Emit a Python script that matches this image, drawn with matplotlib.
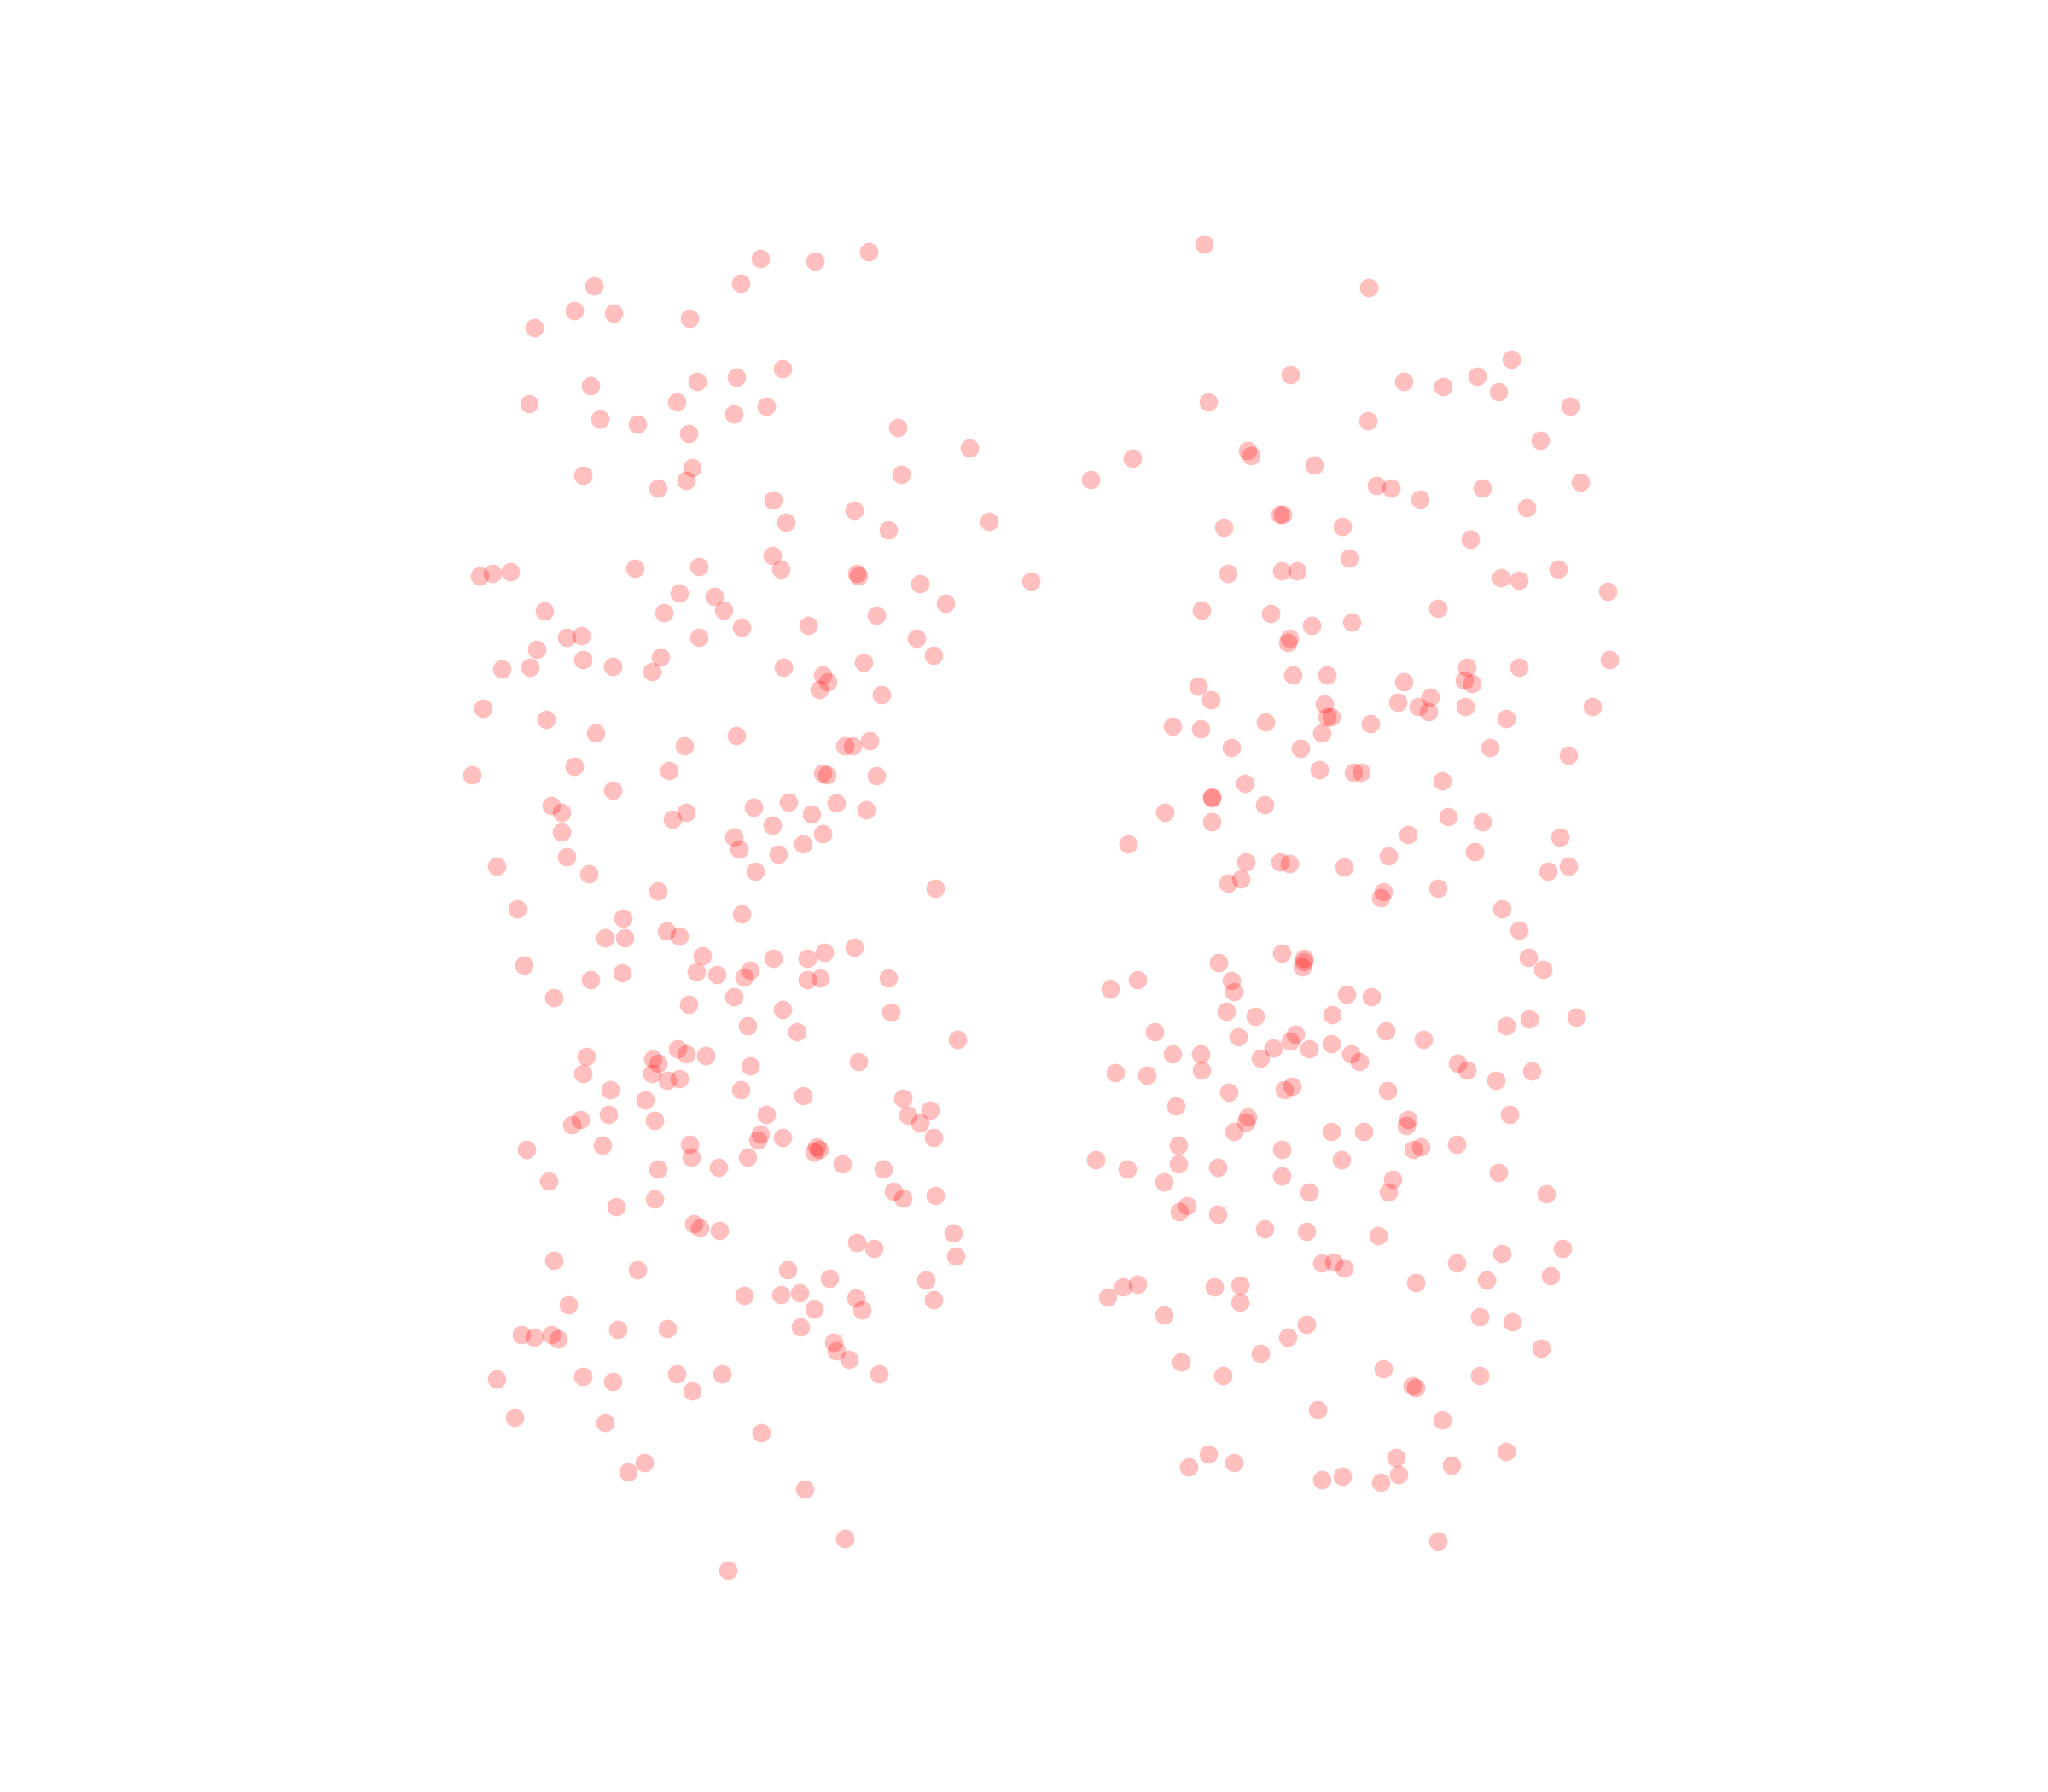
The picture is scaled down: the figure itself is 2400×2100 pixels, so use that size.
import matplotlib.pyplot as plt

# point positions, in 1568x1372 preview pixels
left_x = [582, 624, 665, 567, 455, 440, 470, 528, 409, 599, 564, 534, 452, 405, 518, 587, 562, 459, 488, 527, 687, 742, 530, 446, 504, 525, 690, 592, 654, 602, 680, 757,
          591, 598, 535, 486, 367, 377, 391, 656, 657, 704, 789, 520, 547, 724, 417, 508, 554, 671, 568, 619, 445, 434, 535, 702, 411, 446, 506, 715, 661, 384, 406, 469, 499, 600, 630, 634, 627, 675,
          370, 418, 456, 564, 524, 647, 653, 666, 440, 512, 630, 633, 671, 361, 469, 604, 640, 422, 430, 577, 525, 515, 621, 663, 591, 430, 630, 562, 566, 615, 596, 434, 380, 451, 578, 504, 716,
          396, 568, 477, 463, 478, 510, 520, 654, 631, 538, 618, 592, 401, 574, 533, 549, 570, 476, 452, 618, 628, 680, 424, 562, 527, 599, 682, 572, 610, 733, 519, 525, 540, 449, 500, 504, 574, 657,
          446, 499, 511, 520, 567, 467, 615, 691, 494, 466, 587, 712, 695, 444, 438, 501, 704, 582, 599, 715, 580, 461, 528, 403, 625, 627, 623, 572, 529, 645, 504, 550, 676, 420, 684, 691, 716, 501, 472,
          531, 536, 551, 730, 656, 669, 732, 424, 488, 603, 635, 709, 570, 598, 612, 655, 715, 435, 623, 660, 473, 511, 613, 399, 409, 422, 427, 638, 640, 650, 446, 518, 553, 673, 380, 469, 530,
          394, 463, 583, 493, 481, 616, 647, 557]
left_y = [198, 200, 193, 217, 219, 238, 240, 244, 251, 282, 289, 292, 295, 309, 308, 311, 317, 321, 325, 332, 327, 343, 358, 364, 374, 368, 363, 383, 391, 400, 406, 399,
          425, 436, 434, 435, 441, 439, 438, 439, 441, 447, 445, 454, 457, 462, 468, 469, 467, 471, 480, 479, 487, 488, 488, 489, 497, 505, 503, 502, 507, 512, 511, 510, 514, 511, 517, 522, 528, 532,
          542, 551, 561, 563, 571, 571, 571, 567, 587, 590, 592, 593, 594, 593, 605, 614, 615, 617, 622, 618, 622, 627, 623, 620, 632, 637, 638, 641, 650, 646, 654, 656, 663, 669, 667, 682, 680,
          696, 700, 703, 718, 718, 713, 717, 725, 729, 732, 734, 734, 739, 743, 744, 746, 748, 745, 750, 750, 749, 749, 764, 763, 769, 773, 775, 785, 790, 796, 803, 807, 808, 809, 811, 814, 816, 813,
          822, 822, 827, 826, 834, 834, 839, 841, 842, 853, 853, 850, 854, 857, 861, 858, 860, 868, 871, 871, 873, 877, 876, 880, 878, 880, 882, 886, 886, 891, 895, 894, 895, 904, 912, 917, 915, 918, 924,
          937, 940, 942, 944, 951, 956, 962, 965, 972, 972, 979, 980, 992, 991, 990, 994, 995, 999, 1002, 1003, 1018, 1017, 1016, 1022, 1024, 1022, 1025, 1028, 1034, 1041, 1054, 1052, 1052, 1052, 1056, 1058, 1065,
          1085, 1089, 1097, 1120, 1127, 1140, 1178, 1202]

right_x = [922, 1048, 1157, 988, 1075, 1105, 1131, 1147, 925, 1202, 1047, 1179, 955, 958, 867, 1006, 835, 1054, 1065, 1135, 1210, 1087, 1169, 980, 982, 937, 1028, 1126, 1033, 981, 993, 940, 1149, 1163, 1193, 1231,
           920, 973, 1101, 1004, 1035, 987, 986, 1232, 1123, 1163, 990, 1016, 1075, 1121, 1127, 917, 927, 1095, 1070, 1014, 1086, 1094, 1122, 1219, 1016, 1019, 1049, 1153, 898, 919, 969, 1012, 943, 996, 1141, 1201,
           1010, 1036, 1042, 1104, 953, 928, 928, 968, 892, 928, 1109, 1135, 1078, 1194, 864, 1129, 1063, 954, 980, 987, 1029, 1201, 1185, 950, 940, 1101, 1059, 1057, 1150, 1163, 981, 998, 998, 997, 933, 1170, 1181,
           871, 850, 943, 945, 1031, 1050, 939, 961, 1020, 1207, 1171, 1153, 884, 1061, 948, 992, 988, 1019, 975, 1002, 1090, 898, 919, 965, 1034, 1041, 1116, 1123, 854, 878, 920, 1173, 1145, 989, 983, 941, 1062,
           900, 1156, 955, 954, 1078, 1077, 945, 1019, 1044, 902, 981, 1082, 1088, 1115, 839, 1027, 863, 902, 932, 981, 1147, 891, 1066, 1002, 1063, 1184, 909, 903, 932, 968, 1000, 1055, 1196, 1150, 1012, 1021, 1029, 1115,
           1187, 1138, 1084, 871, 860, 848, 930, 949, 949, 891, 1133, 1158, 1000, 986, 965, 1180, 904, 1059, 936, 1133, 1081, 1084, 1009, 1104, 925, 1069, 1153, 910, 945, 1111, 1071, 1028, 1012, 1057, 1101]
right_y = [187, 220, 275, 287, 292, 296, 288, 300, 308, 311, 322, 337, 345, 349, 351, 356, 367, 372, 374, 374, 369, 382, 389, 394, 394, 404, 403, 413, 427, 437, 437, 439, 442, 444, 436, 453,
           467, 470, 466, 479, 476, 489, 492, 505, 511, 511, 517, 517, 522, 521, 523, 525, 536, 534, 538, 539, 541, 545, 541, 541, 549, 549, 554, 550, 556, 558, 553, 561, 572, 573, 572, 578,
           589, 591, 591, 598, 600, 610, 611, 616, 622, 629, 625, 629, 639, 641, 646, 652, 655, 660, 660, 661, 664, 663, 667, 673, 676, 680, 683, 687, 696, 712, 730, 734, 736, 740, 737, 733, 742,
           750, 757, 751, 759, 761, 763, 774, 778, 777, 779, 780, 785, 790, 789, 794, 792, 797, 799, 802, 803, 796, 807, 807, 810, 807, 813, 814, 819, 821, 823, 819, 820, 827, 832, 834, 836, 835,
           847, 853, 855, 859, 857, 862, 866, 866, 866, 877, 880, 880, 878, 876, 888, 888, 895, 891, 894, 900, 898, 905, 903, 913, 913, 914, 923, 928, 930, 941, 943, 946, 956, 960, 967, 966, 971, 967,
           977, 980, 982, 983, 985, 993, 985, 984, 997, 1007, 1008, 1012, 1014, 1024, 1036, 1032, 1043, 1048, 1053, 1053, 1061, 1062, 1079, 1087, 1113, 1116, 1111, 1123, 1120, 1122, 1129, 1130, 1133, 1135, 1180]

fig = plt.figure(figsize=(12, 10.5), dpi=200)
ax = fig.add_axes([0, 0, 1, 1])
ax.scatter(left_x + right_x, left_y + right_y, s=61, color="red", alpha=0.25, linewidths=0)
ax.set_xlim(0, 1568)
ax.set_ylim(1372, 0)
ax.axis("off")

plt.savefig("out.png", dpi=200)
plt.close()
